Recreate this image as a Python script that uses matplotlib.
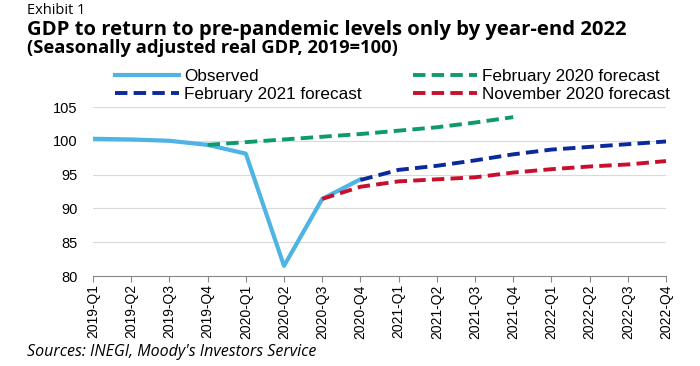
import matplotlib
matplotlib.use("Agg")
import matplotlib.pyplot as plt
import numpy as np

quarters = ["2019-Q1", "2019-Q2", "2019-Q3", "2019-Q4",
            "2020-Q1", "2020-Q2", "2020-Q3", "2020-Q4",
            "2021-Q1", "2021-Q2", "2021-Q3", "2021-Q4",
            "2022-Q1", "2022-Q2", "2022-Q3", "2022-Q4"]

observed = [100.3, 100.2, 100.0, 99.4, 98.1, 81.5, 91.4, 94.3]
feb2020 = [99.4, 99.8, 100.2, 100.6, 101.0, 101.5, 102.0, 102.7, 103.5]   # from 2019-Q4
feb2021 = [94.2, 95.7, 96.3, 97.1, 98.0, 98.7, 99.1, 99.5, 99.9]          # from 2020-Q4
nov2020 = [91.4, 93.2, 94.0, 94.3, 94.6, 95.3, 95.8, 96.2, 96.5, 97.0]    # from 2020-Q3

x = np.arange(len(quarters))

fig = plt.figure(figsize=(7.0, 3.66), dpi=100)
ax = fig.add_axes([93 / 700, 1 - 276 / 366, 573 / 700, 169 / 366])

dash = (0, (3.2, 1.6))
ax.plot(x[3:3 + len(feb2020)], feb2020, color="#0f9a6e", lw=2.8, ls=dash, label="February 2020 forecast")
ax.plot(x[6:6 + len(nov2020)], nov2020, color="#c8102e", lw=2.8, ls=dash, label="November 2020 forecast")
ax.plot(x[7:7 + len(feb2021)], feb2021, color="#0a2a9c", lw=2.8, ls=dash, label="February 2021 forecast")
ax.plot(x[:len(observed)], observed, color="#4fb3e3", lw=3.0, label="Observed", zorder=1.5)

ax.set_xlim(0, len(quarters) - 1)
ax.set_ylim(80, 105)
ax.set_yticks([80, 85, 90, 95, 100, 105])
ax.set_xticks(x)
ax.set_xticklabels(quarters, rotation=90, fontsize=10, family="Liberation Sans")
for lab in ax.get_yticklabels():
    lab.set_family("Liberation Sans")
    lab.set_fontsize(10.5)
ax.tick_params(axis="y", length=0, pad=11)
ax.tick_params(axis="x", length=4, pad=2, color="#888888", direction="out")
ax.grid(True, axis="y", color="#d9d9d9", lw=0.8)
ax.set_axisbelow(True)
for side in ["left", "right", "top"]:
    ax.spines[side].set_visible(False)
ax.spines["bottom"].set_color("#888888")

handles, labels = ax.get_legend_handles_labels()
order = [3, 2, 0, 1]
fig.legend([handles[i] for i in order], [labels[i] for i in order],
           loc="upper left", bbox_to_anchor=(115 / 700, 1 - 69 / 366), ncol=2,
           frameon=False, handlelength=3.75, columnspacing=3.0,
           labelspacing=0.15, handletextpad=0.3, borderaxespad=0, borderpad=0,
           prop={"family": "Liberation Sans", "size": 12.3})

fig.text(27 / 700, 1 - 11 / 366, "Exhibit 1", fontsize=10.5, family="Open Sans", va="center")
fig.text(27 / 700, 1 - 30 / 366, "GDP to return to pre-pandemic levels only by year-end 2022",
         fontsize=14.6, fontweight="bold", family="Open Sans", va="center")
fig.text(27 / 700, 1 - 48 / 366, "(Seasonally adjusted real GDP, 2019=100)",
         fontsize=13.2, fontweight="bold", family="Open Sans", va="center")
fig.text(27 / 700, 1 - 352 / 366, "Sources: INEGI, Moody's Investors Service",
         fontsize=11.5, style="italic", family="Open Sans", va="center")

fig.savefig("out.png", dpi=100)
